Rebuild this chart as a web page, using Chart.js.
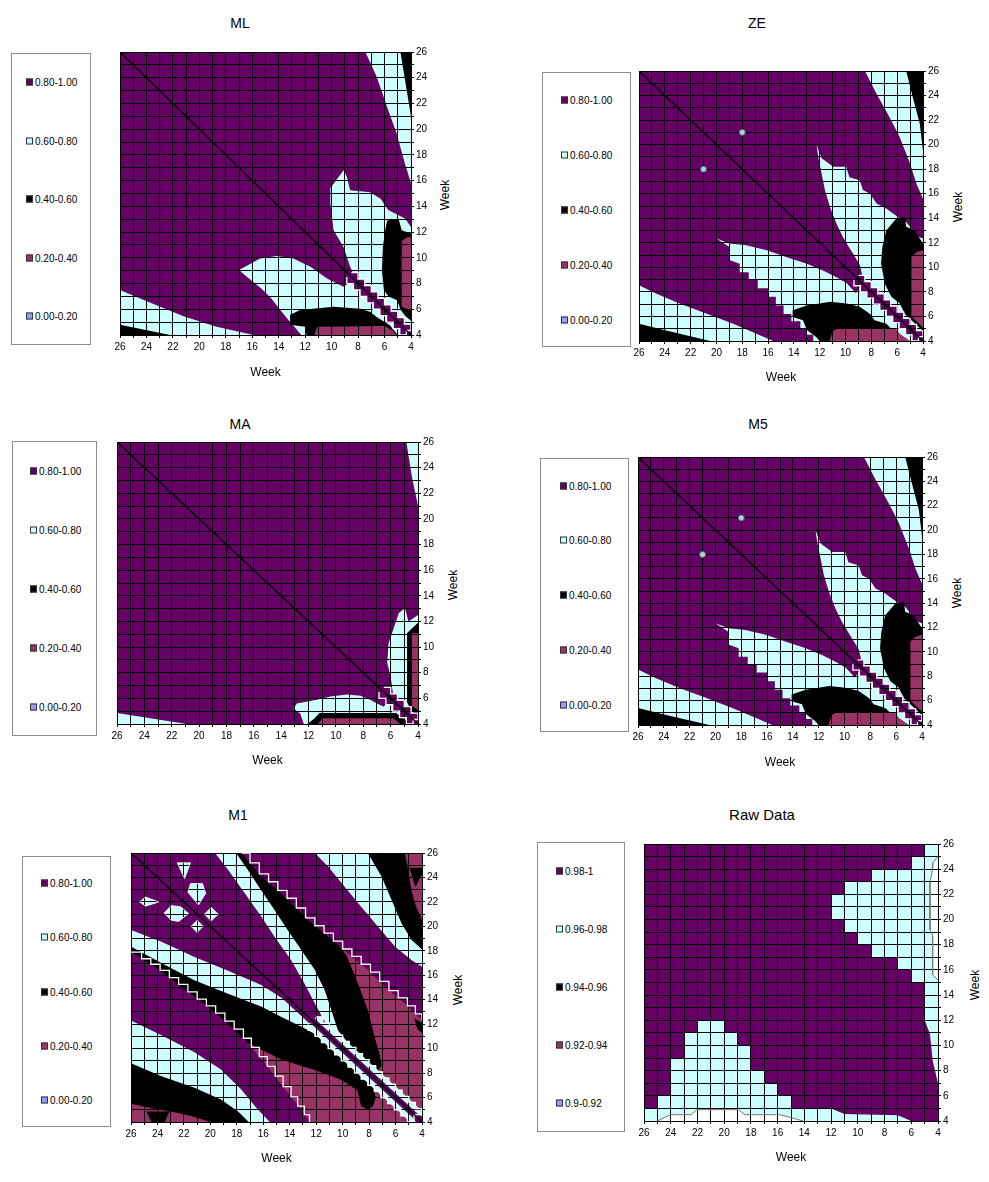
<!DOCTYPE html>
<html><head><meta charset="utf-8">
<script src="https://cdn.jsdelivr.net/npm/chart.js@4.4.1/dist/chart.umd.min.js"></script>
<style>
body{margin:0;background:#fff;font-family:"Liberation Sans",Arial,sans-serif;}
#root{position:relative;width:989px;height:1182px;overflow:hidden;background:#fff;}
.ttl{position:absolute;transform:translate(-50%,-50%);font-size:14px;color:#000;white-space:nowrap;}
.ytl{position:absolute;transform:translate(-50%,-50%) rotate(-90deg);font-size:12px;color:#000;white-space:nowrap;}
.lg{position:absolute;border:1px solid #8c8c8c;background:#fff;box-sizing:border-box;z-index:2;}
.lgi{position:absolute;display:flex;align-items:center;font-size:10px;color:#000;transform:translateY(-50%);white-space:nowrap;}
.sw{width:5px;height:5px;border:1px solid #333;margin-right:2px;}
.cv{position:absolute;z-index:1;}
</style></head>
<body><div id="root"></div>
<script>
// ---------- data ----------
const weekLabels = [4,6,8,10,12,14,16,18,20,22,24,26];
const levelLabels = ['0.80-1.00','0.60-0.80','0.40-0.60','0.20-0.40','0.00-0.20'];
const rawLevelLabels = ['0.98-1','0.96-0.98','0.94-0.96','0.92-0.94','0.9-0.92'];
const levelColors = ['#660066','#ccffff','#000000','#993366','#9999ff'];
const panelTitles = ['ML','ZE','MA','M5','M1','Raw Data'];

const fullArea = [[26,26],[4,26],[4,4],[26,4]];
const diagonal = [[26,26],[4,4]];

// ML
const mlCyanTop = [[7.45,26],[6.6,24.1],[5.8,21.7],[5.1,19.7],[4.45,17.3],[4,15.8],[4,26]];
const mlBlackTop = [[4.8,26],[4,26],[4,21]];
const mlCyanLeft = [[26,7.5],[23.7,6.5],[21.2,5.45],[18.7,4.65],[15.9,4],[26,4]];
const mlBlackLeft = [[26,4.8],[22.2,4],[26,4]];
const mlUpperLeaf = [[9.1,16.8],[8.85,16.3],[8.6,15.25],[7.1,15.1],[6.3,14.6],[5.7,13.7],[5.2,13.45],[4.45,13.05],[4,12.4],[4,4.3],[8.3,8.6],[8.6,9.3],[9.1,10.85],[9.85,12.15],[10.1,14.2],[10.1,15.4]];
const mlLowerLeaf = [[17.0,9.05],[15.4,9.95],[14.15,10.15],[12.9,9.95],[11.6,9.3],[10.35,8.4],[9.1,7.75],[8.6,8.1],[4.3,4],[12.3,4],[12.7,4.5],[13.3,5.2],[14.0,6.1],[14.6,6.9],[15.3,7.6],[16.5,8.6]];
const mlBlackRight = [[5.8,12.9],[4.95,13.05],[4.7,12.15],[4,11.9],[4,5.1],[4.45,5.5],[4.8,6.0],[5.05,6.7],[5.7,7.0],[6.05,7.5],[6.2,9.05],[6.12,10.9],[5.95,12.15]];
const mlPinkRight = [[4.7,11.3],[4.3,11.6],[4,11.6],[4,5.9],[4.7,6.2]];
const mlBlackBottom = [[13.15,5.55],[12.4,5.95],[9.85,6.2],[7.85,6.05],[7.1,5.8],[6.6,5.4],[5.6,4.75],[5.0,4],[11.9,4],[12.0,4.65],[13.15,4.8]];
const mlPinkBottom = [[11.3,4],[11.1,4.65],[6.0,4.7],[5.4,4.35],[5.1,4]];
const mlBand = [[8.5,8.85],[8,8.35],[7.5,7.85],[7,7.35],[6.5,6.85],[6,6.35],[5.5,5.85],[5,5.35],[4.5,4.85],[4,4.35],[4.35,4],[4.85,4.5],[5.35,5],[5.85,5.5],[6.35,6],[6.85,6.5],[7.35,7],[7.85,7.5],[8.35,8],[8.85,8.5]];

// ZE (M5 shares the same contours)
const zeCyanTop = [[8.5,26],[7.6,24.15],[6.6,22.25],[5.8,20.6],[5.0,18.45],[4.5,16.8],[4,15.6],[4,26]];
const zeBlackTop = [[5.3,26],[4,26],[4,19.5],[4.25,21.7],[4.8,23.9]];
const zeCyanLeft = [[26,8.55],[24.65,7.85],[22.85,7.05],[20.8,6.25],[18.7,5.4],[16.9,4.6],[15.6,4],[26,4]];
const zeBlackLeft = [[26,5.4],[23.9,4.85],[21.3,4.2],[20.5,4],[26,4]];
const zeUpperLeaf = [[12.25,20.0],[11.85,18.9],[10.95,18.2],[9.95,18.2],[9.7,17.35],[8.9,17.1],[8.65,16.3],[8.1,16.0],[7.6,15.2],[6.85,14.8],[6.35,14.4],[5.8,14.0],[5.3,13.7],[4.8,13.0],[4.4,12.5],[4,12.35],[4,4.3],[8.6,8.9],[8.9,10.2],[9.3,10.9],[10.2,12.45],[10.7,13.55],[11.2,14.9],[11.6,16.3],[11.9,17.9],[12.1,18.9]];
const zeLowerLeaf = [[20,12.35],[19,11.95],[17.7,11.8],[16.1,11.4],[14.6,10.85],[13.0,10.3],[11.75,9.75],[10.7,9.2],[9.9,8.7],[9.2,7.9],[8.9,8.4],[4.3,4],[12.5,4],[12.5,4.5],[13,4.5],[13,5],[13.5,5],[13.5,5.6],[14.2,5.6],[14.2,6.2],[14.8,6.2],[14.8,6.9],[15.4,6.9],[15.4,7.6],[16,7.6],[16,8.3],[16.8,8.3],[16.8,9],[17.5,9],[17.5,9.6],[18.2,9.6],[18.2,10.3],[19,10.6],[19,11.65]];
const zeBlackRight = [[6.05,14.0],[5.4,14.1],[5.3,13.3],[4.65,13.0],[4,11.95],[4,4.8],[4.5,5.3],[5.0,5.8],[5.4,6.2],[5.8,7.05],[6.45,7.6],[6.95,8.65],[7.25,10.3],[7.15,11.65],[6.85,13.0]];
const zePinkRight = [[4.9,10.85],[4.5,11.25],[4,11.4],[4,5.1],[4.9,6.0]];
const zeBlackBottom = [[14.1,6.5],[13.0,6.9],[11.2,7.2],[9.9,7.05],[8.9,6.8],[8.1,6.2],[7.75,5.7],[6.85,5.4],[6.35,4.9],[5.8,4.35],[5.55,4],[12.0,4],[12.3,4.35],[13.0,4.9],[13.3,5.7],[14.1,5.95]];
const zePinkBottom = [[11.25,4],[11.0,4.8],[10.7,5.0],[6.1,5.0],[5.8,4.6],[5.0,4]];
const zeDots = [[18,21],[21,18]];
const zeBand = [[9,9.35],[8.5,8.85],[8,8.35],[7.5,7.85],[7,7.35],[6.5,6.85],[6,6.35],[5.5,5.85],[5,5.35],[4.5,4.85],[4,4.35],[4.35,4],[4.85,4.5],[5.35,5],[5.85,5.5],[6.35,6],[6.85,6.5],[7.35,7],[7.85,7.5],[8.35,8],[8.85,8.5],[9.35,9]];

// MA
const maCyanTop = [[4.85,26],[4.45,23.3],[4,21],[4,26]];
const maCyanLeft = [[26,4.85],[20.9,4],[26,4]];
const maCyanBottom = [[13.1,5.2],[12.85,5.6],[11.4,5.9],[10.4,6.15],[9.2,6.3],[8.2,6.2],[7.5,5.9],[7.0,5.6],[6.5,5.35],[6.2,5.8],[4.3,4],[12.35,4],[12.6,4.8]];
const maCyanRight = [[5.4,12.65],[4.95,13.05],[4.7,12.0],[4,12.5],[4,4.3],[5.8,6.1],[6.0,7.7],[6.25,8.75],[6.15,10.3]];
const maBlackV = [[4,11.9],[4.8,11.1],[4.8,5.7],[4.45,5.0],[4,4.6]];
const maPinkV = [[4,11.1],[4.45,11.1],[4.45,5.45],[4,5.05]];
const maBlackH = [[12.1,4],[11.6,4.4],[11.2,4.85],[5.6,4.85],[4.9,4.3],[4.6,4]];
const maPinkH = [[11.3,4],[11.0,4.45],[5.8,4.45],[5.3,4]];
const maBand = [[6.5,6.85],[6,6.35],[5.5,5.85],[5,5.35],[4.5,4.85],[4,4.35],[4.35,4],[4.85,4.5],[5.35,5],[5.85,5.5],[6.35,6],[6.85,6.5]];

// M1
const m1Trapezoid = [[24.85,4.85],[23.1,4.85],[23.45,4],[24.45,4]];
const m1BlackK = [[26,5.5],[24.3,5.1],[22.5,4.75],[21.2,4.4],[20,4],[4,4],[4,26],[26,26]];
const m1CyanJ = [[26,8.8],[23.7,7.75],[21.2,6.8],[19.2,5.85],[17.9,4.85],[17.1,4],[4,4],[4,26],[26,26]];
const m1PurpleI = [[26,12.3],[23.7,11.1],[21.2,9.7],[19.2,8.3],[17.7,6.7],[16.4,5.0],[15.5,4],[4,4],[4,26],[26,26]];
const m1PinkLow = [[26,17.9],[24.2,16.7],[22.2,15.05],[20.2,13.45],[18.7,12.05],[17.15,10.45],[15.9,8.8],[14.9,7.45],[13.9,6.05],[13.1,5.0],[12.5,4],[4,4],[4,26],[26,26]];
const m1BlackH = [[26,18.35],[23.7,17.0],[21.2,15.6],[18.7,14.5],[16.15,13.45],[14.65,12.6],[13.1,11.8],[12.1,11.2],[11,10.1],[10,9.1],[9,8.1],[8.2,7.3],[7.7,6.8],[7.5,6.0],[7.7,5.3],[8.1,5.0],[8.6,5.3],[8.9,6.6],[10.1,7.45],[12.1,8.25],[14.6,9.1],[17.15,10.45],[18.7,12.05],[20.2,13.45],[22.2,15.05],[24.2,16.7],[26,17.9]];
const m1CyanG = [[26,18.35],[23.7,17.0],[21.2,15.6],[18.7,14.5],[16.15,13.45],[14.65,12.6],[13.1,11.8],[12.1,11.2],[4.9,4],[4,4],[4,26],[26,26]];
const m1PurpleF = [[26,19.7],[23.7,18.75],[21.2,17.5],[18.7,16.4],[16.15,15.2],[14.6,14.15],[4.45,4],[4,4],[4,26],[26,26]];
const m1CyanE = [[19.65,26],[18.65,24.6],[17.4,22.7],[16.15,20.8],[15.15,19.15],[13.9,17.25],[12.9,15.35],[12.1,13.7],[11.4,12.3],[10.5,10.95],[4,4.45],[4,26]];
const m1PinkM = [[18.05,26],[17.15,24.6],[16.15,22.95],[15.15,21.35],[14.15,19.7],[13.1,18.05],[12.1,16.45],[11.35,14.8],[10.85,13.15],[10.35,11.5],[9.6,10.5],[4,4.9],[4,26]];
const m1BlackD = [[18.05,26],[17.15,24.6],[16.15,22.95],[15.15,21.35],[14.15,19.7],[13.1,18.05],[12.1,16.45],[11.35,14.8],[10.85,13.15],[10.35,11.5],[9.6,10.5],[8.5,9.4],[7.8,8.7],[7.3,8.25],[7.05,8.6],[7.2,9.5],[7.6,11.0],[8.1,13.15],[8.85,15.35],[9.7,17.6],[12,21],[15,26]];
const m1PurpleC = [[17.65,26],[16.15,24.05],[14.4,22.45],[12.6,20.5],[11.1,19.15],[9.6,17.8],[8.1,16.45],[6.55,14.8],[5.3,13.7],[4.3,12.6],[4,12.35],[4,26]];
const m1BlackBlobR = [[4.6,12.5],[4,12.1],[4,11.3],[4.35,11.6]];
const m1CyanB = [[12.1,26],[11.1,24.9],[9.85,23.25],[8.6,21.6],[7.35,20.0],[6.05,18.35],[4.8,17.25],[4,16.7],[4,26]];
const m1BlackA = [[8.1,26],[7.05,24.05],[6.3,22.15],[5.55,20.25],[4.8,18.9],[4,18.1],[4,26]];
const m1PinkCorner = [[5.3,26],[5.05,24.6],[4.8,22.95],[4.45,21.6],[4,20.5],[4,26]];
const m1BlackCorner = [[4.95,24.8],[4,24.8],[4,24.3],[4.5,23.2]];
const m1Kite1 = [[22.5,25.2],[21.5,25.2],[21.95,23.9],[22.5,25.2]];
const m1Kite2 = [[21.5,23.5],[20.6,23.5],[20.35,22.7],[20.9,21.75],[21.7,22.8],[21.5,23.5]];
const m1Kite3 = [[25.35,22.0],[24.9,22.4],[23.9,22.0],[24.9,21.65],[25.35,22.0]];
const m1Kite4 = [[23.5,21.1],[22.95,21.7],[22.25,21.6],[21.65,21.05],[22.4,20.4],[22.95,20.5],[23.5,21.1]];
const m1Kite5 = [[20.45,21.0],[19.93,21.55],[19.4,21.0],[19.93,20.45],[20.45,21.0]];
const m1Kite6 = [[21.45,20.0],[21.0,20.5],[20.55,20.0],[21.0,19.5],[21.45,20.0]];
const m1ZigI = [[26,17.9],[25.2,17.35],[24.5,16.9],[23.8,16.4],[23.1,15.8],[22.4,15.25],[21.7,14.65],[21.0,14.05],[20.3,13.5],[19.6,12.9],[18.9,12.25],[18.2,11.6],[17.5,10.85],[16.9,10.1],[16.3,9.35],[15.7,8.55],[15.1,7.75],[14.5,6.9],[13.9,6.05],[13.4,5.3],[12.9,4.6],[12.5,4]];
const m1ZigC = [[17.65,26],[17.0,25.2],[16.3,24.3],[15.6,23.65],[14.9,22.95],[14.2,22.3],[13.5,21.5],[12.8,20.7],[12.1,20.05],[11.4,19.45],[10.7,18.8],[10.0,18.15],[9.3,17.55],[8.6,16.9],[7.9,16.25],[7.2,15.5],[6.5,14.75],[5.8,14.15],[5.1,13.5],[4.5,12.85],[4,12.35]];
const m1CyanBand = [[12,12.6],[11.5,12.1],[11,11.6],[10.5,11.1],[10,10.6],[9.5,10.1],[9,9.6],[8.5,9.1],[8,8.6],[7.5,8.1],[7,7.6],[6.5,7.1],[6,6.6],[5.5,6.1],[5,5.6],[4.5,5.1],[4,4.6],[4.6,4],[5.1,4.5],[5.6,5],[6.1,5.5],[6.6,6],[7.1,6.5],[7.6,7],[8.1,7.5],[8.6,8],[9.1,8.5],[9.6,9],[10.1,9.5],[10.6,10],[11.1,10.5],[11.6,11],[12.1,11.5],[12.6,12]];
const m1Strip = [[13,13.35],[4,4.35],[4.35,4],[13.35,13]];

// Raw Data
const rawCyanUpper = [[5,26],[4,26],[4,7],[4.4,8.8],[4.6,10.9],[5,12],[5,15],[6,15],[6,16],[7,16],[7,17],[9,17],[9,18],[10,18],[10,19],[11,19],[11,20],[12,20],[12,22],[11,22],[11,23],[9,23],[9,24],[6,24],[6,25],[5,25]];
const rawCyanLower = [[22,12],[20,12],[20,11],[19,11],[19,10],[18,10],[18,8],[17,8],[17,7],[16,7],[16,6],[15,6],[15,5],[12,5],[11,4.55],[7,4.45],[6,4],[26,4],[26,5],[25,5],[25,6],[24,6],[24,9],[23,9],[23,11],[22,11]];
const rawWhiteBottom = [[25,4],[24.05,4.5],[22.45,4.5],[22.05,4.9],[18.95,4.9],[18.45,4.5],[15.85,4.5],[15.1,4.3],[14.1,4]];
const rawWhiteRight = [[4,25],[4.4,24.5],[4.4,24],[4.6,23],[4.6,19.2],[4.4,18.7],[4.4,15.6],[4,15.2]];

// ---------- dataset builders ----------
Chart.defaults.font.family = '"Liberation Sans", Arial, sans-serif';
const [PU, CY, BK, PK] = levelColors;
function area(data, color, extra) {
  return Object.assign({data, showLine: true, fill: 'shape', backgroundColor: color, borderWidth: 0, pointRadius: 0}, extra || {});
}
function band(data, color) {
  return area(data, color, {stepped: 'before', borderColor: '#ffffff', borderWidth: 1.3});
}
function zig(data, mode) {
  return {data, showLine: true, fill: false, borderColor: '#ffffff', borderWidth: 1.3, stepped: mode, pointRadius: 0};
}
function line(data) {
  return {data, showLine: true, fill: false, borderColor: '#000000', borderWidth: 1.4, pointRadius: 0};
}
function dots(data) {
  return {data, showLine: false, fill: false, pointRadius: 3, pointBackgroundColor: '#a8d8d8', pointBorderColor: '#4a6a6a', pointBorderWidth: 1};
}

const mlSets = [area(fullArea,PU), area(mlCyanTop,CY), area(mlBlackTop,BK), area(mlCyanLeft,CY), area(mlBlackLeft,BK),
  area(mlUpperLeaf,CY), area(mlLowerLeaf,CY), area(mlBlackRight,BK), area(mlPinkRight,PK), area(mlBlackBottom,BK), area(mlPinkBottom,PK),
  band(mlBand,PU), line(diagonal)];
const zeSets = () => [area(fullArea,PU), area(zeCyanTop,CY), area(zeBlackTop,BK), area(zeCyanLeft,CY), area(zeBlackLeft,BK),
  area(zeUpperLeaf,CY), area(zeLowerLeaf,CY), area(zeBlackRight,BK), area(zePinkRight,PK), area(zeBlackBottom,BK), area(zePinkBottom,PK),
  band(zeBand,PU), line(diagonal), dots(zeDots)];
const maSets = [area(fullArea,PU), area(maCyanTop,CY), area(maCyanLeft,CY), area(maCyanBottom,CY), area(maCyanRight,CY),
  area(maBlackV,BK), area(maPinkV,PK), area(maBlackH,BK), area(maPinkH,PK),
  band(maBand,PU), line(diagonal)];
const kiteOpt = {borderWidth: 0.8, borderColor: '#f4ffff'};
const m1Sets = [area(fullArea,PK), area(m1Trapezoid,BK), area(m1BlackK,BK), area(m1CyanJ,CY), area(m1PurpleI,PU), area(m1PinkLow,PK),
  area(m1BlackH,BK), area(m1CyanG,CY), area(m1PurpleF,PU), area(m1CyanE,CY), area(m1PinkM,PK), area(m1BlackD,BK),
  area(m1PurpleC,PU), area(m1BlackBlobR,BK), area(m1CyanB,CY), area(m1BlackA,BK), area(m1PinkCorner,PK), area(m1BlackCorner,BK),
  area(m1Kite1,CY,kiteOpt), area(m1Kite2,CY,kiteOpt), area(m1Kite3,CY,kiteOpt), area(m1Kite4,CY,kiteOpt), area(m1Kite5,CY,kiteOpt), area(m1Kite6,CY,kiteOpt),
  band(m1CyanBand,CY), area(m1Strip,PU),
  zig(m1ZigI,'before'), zig(m1ZigC,'before'), line(diagonal)];
const rawSets = [area(fullArea,PU), area(rawCyanUpper,CY), area(rawCyanLower,CY),
  area(rawWhiteBottom,'#ffffff',{borderWidth:1,borderColor:'#777777'}), area(rawWhiteRight,'#ffffff',{borderWidth:1,borderColor:'#777777'})];

// ---------- layout ----------
const panels = [
  {title: panelTitles[0], t:[240,23,14], legend:[11,53,80,292,14], labels: levelLabels, plot:[120,52,291,283], xt:38, yt:[445,195], sets: mlSets},
  {title: panelTitles[1], t:[757,23,14], legend:[542,72,89,275,18], labels: levelLabels, plot:[639,71,284,270], xt:37, yt:[958,207], sets: zeSets()},
  {title: panelTitles[2], t:[240,424,14], legend:[12,441,85,295,17], labels: levelLabels, plot:[117,442,301,282], xt:37, yt:[453,585], sets: maSets},
  {title: panelTitles[3], t:[758,424,14], legend:[540,458,89,274,19], labels: levelLabels, plot:[638,457,284,268], xt:38, yt:[957,593], sets: zeSets()},
  {title: panelTitles[4], t:[238,815,14], legend:[22,856,89,271,18], labels: levelLabels, plot:[131,853,291,269], xt:37, yt:[458,990], sets: m1Sets},
  {title: panelTitles[5], t:[762,814,15], legend:[537,842,88,290,18], labels: rawLevelLabels, plot:[644,844,294,277], xt:37, yt:[975,985], sets: rawSets}
];

const root = document.getElementById('root');
function el(cls, css, text) {
  const d = document.createElement('div');
  d.className = cls; Object.assign(d.style, css);
  if (text !== undefined) d.textContent = text;
  root.appendChild(d); return d;
}

panels.forEach(p => {
  el('ttl', {left: p.t[0]+'px', top: p.t[1]+'px', fontSize: p.t[2]+'px'}, p.title);
  el('ytl', {left: p.yt[0]+'px', top: p.yt[1]+'px'}, 'Week');
  const [lx, ly, lw, lh, sx] = p.legend;
  const box = el('lg', {left: lx+'px', top: ly+'px', width: lw+'px', height: lh+'px'});
  p.labels.forEach((lab, i) => {
    const it = document.createElement('div');
    it.className = 'lgi';
    it.style.left = sx + 'px';
    it.style.top = (lh * (0.097 + 0.2 * i)) + 'px';
    const sw = document.createElement('div');
    sw.className = 'sw'; sw.style.background = levelColors[i];
    const tx = document.createElement('span'); tx.textContent = lab;
    it.appendChild(sw); it.appendChild(tx); box.appendChild(it);
  });

  const [pl, pt, pw, ph] = p.plot;
  const padL = 20, padT = 12, yW = 32, padR = 2, padB = 2;
  const xH = Math.round(p.xt + 7.2);
  const cw = pw + padL + yW + padR, chh = ph + padT + xH + padB;
  const cv = document.createElement('canvas');
  cv.className = 'cv';
  cv.width = cw; cv.height = chh;
  cv.style.left = (pl - padL) + 'px'; cv.style.top = (pt - padT) + 'px';
  cv.style.width = cw + 'px'; cv.style.height = chh + 'px';
  root.appendChild(cv);

  const n = p.sets.length;
  p.sets.forEach((d, i) => { d.order = n - i; });
  const tickFont = {size: 10};
  new Chart(cv, {
    type: 'scatter',
    data: {datasets: p.sets},
    options: {
      responsive: false, animation: false, events: [],
      layout: {padding: {left: padL, top: padT, right: padR, bottom: padB}},
      plugins: {legend: {display: false}, tooltip: {enabled: false}, filler: {drawTime: 'beforeDraw', propagate: false}},
      scales: {
        x: {type: 'linear', min: 4, max: 26, reverse: true, position: 'bottom',
          afterFit: s => { s.height = xH; },
          ticks: {stepSize: 1, autoSkip: false, maxRotation: 0, minRotation: 0, padding: 3, color: '#000', font: tickFont,
            callback: v => weekLabels.includes(v) ? String(v) : ''},
          grid: {color: '#000', lineWidth: 1, tickLength: 3, tickColor: '#000'},
          border: {color: '#000', width: 1},
          title: {display: true, text: 'Week', color: '#000', font: {size: 12}, padding: {top: 0, bottom: 0}}},
        y: {type: 'linear', min: 4, max: 26, position: 'right',
          afterFit: s => { s.width = yW; },
          ticks: {stepSize: 1, autoSkip: false, padding: 2, color: '#000', font: tickFont,
            callback: v => weekLabels.includes(v) ? String(v) : ''},
          grid: {color: '#000', lineWidth: 1, tickLength: 3, tickColor: '#000'},
          border: {color: '#000', width: 1}}
      }
    }
  });
});
</script>
</body></html>
